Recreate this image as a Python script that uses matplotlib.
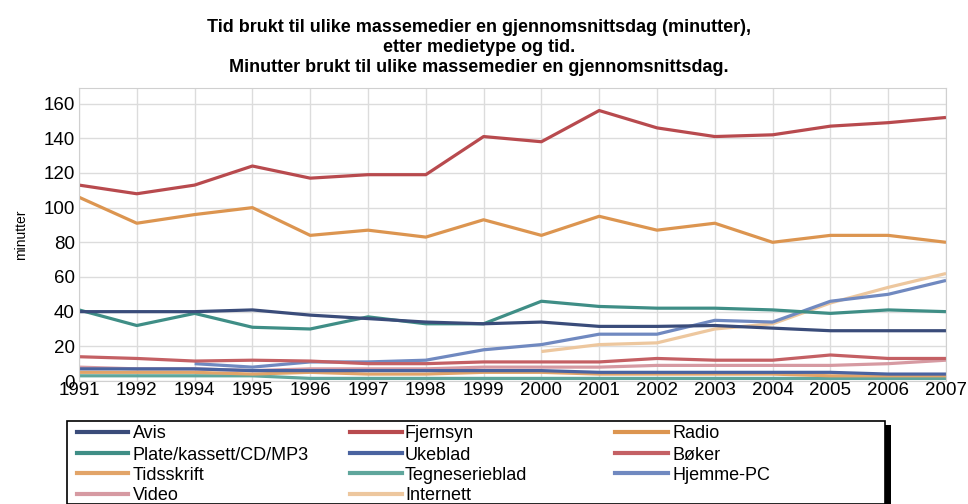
import numpy as np
import matplotlib.pyplot as plt
from matplotlib.lines import Line2D

plt.rcParams['font.family'] = ['Liberation Sans', 'DejaVu Sans']

years = ['1991', '1992', '1994', '1995', '1996', '1997', '1998', '1999',
         '2000', '2001', '2002', '2003', '2004', '2005', '2006', '2007']
nan = np.nan

avis = [40, 40, 40, 41, 38, 36, 34, 33, 34, 31.5, 31.5, 32, 30.5, 29, 29, 29]
fjernsyn = [113, 108, 113, 124, 117, 119, 119, 141, 138, 156, 146, 141, 142, 147, 149, 152]
radio = [106, 91, 96, 100, 84, 87, 83, 93, 84, 95, 87, 91, 80, 84, 84, 80]
plate = [41, 32, 39, 31, 30, 37, 33, 33, 46, 43, 42, 42, 41, 39, 41, 40]
ukeblad = [7, 7, 7, 6, 6, 6, 6, 6, 6, 5, 5, 5, 5, 5, 4, 4]
boker = [14, 13, 11.5, 12, 11.5, 10, 10, 11, 11, 11, 13, 12, 12, 15, 13, 13]
tidsskrift = [5, 5, 5, 4, 5, 4, 4, 5, 5, 4, 4, 4, 4, 3, 3, 3]
tegneserie = [3, 3, 3, 3, 1.5, 1.5, 1.5, 1.5, 1.5, 1.5, 1.5, 1.5, 1.5, 1.5, 1.5, 1.5]
hjemme_pc = [nan, nan, 10, 8, 11, 11, 12, 18, 21, 27, 27, 35, 34, 46, 50, 58]
video = [8, 7, 7, 6, 7, 7, 7, 8, 8, 8, 9, 9, 9, 9, 10, 12]
internett = [nan, nan, nan, nan, nan, nan, nan, nan, 17, 21, 22, 30, 33, 45, 54, 62]

series = [
    ('Avis', avis, '#3a4c7a'),
    ('Fjernsyn', fjernsyn, '#b84a4e'),
    ('Radio', radio, '#dc9550'),
    ('Plate/kassett/CD/MP3', plate, '#3f8e86'),
    ('Ukeblad', ukeblad, '#4a63a0'),
    ('Bøker', boker, '#c46064'),
    ('Tidsskrift', tidsskrift, '#e2a468'),
    ('Tegneserieblad', tegneserie, '#5fa69c'),
    ('Hjemme-PC', hjemme_pc, '#7089c0'),
    ('Video', video, '#d69aa2'),
    ('Internett', internett, '#edc79e'),
]

W, H = 968, 504
fig = plt.figure(figsize=(W / 100, H / 100), dpi=100)
ax = fig.add_axes([79 / W, 1 - 381 / H, (946 - 79) / W, (381 - 88) / H])

x = np.arange(len(years))
# draw from the back so the bigger series stay on top
for name, vals, col in reversed(series):
    ax.plot(x, vals, color=col, linewidth=2.3, solid_capstyle='butt')

ax.set_xlim(0, len(years) - 1)
ax.set_ylim(0, 169)
ax.set_xticks(x)
ax.set_xticklabels(years, fontsize=13.5)
ax.set_yticks(np.arange(0, 161, 20))
ax.tick_params(axis='y', labelsize=13.5, length=0, pad=3)
ax.tick_params(axis='x', length=0, pad=1)
ax.grid(True, color='#dcdcdc', linewidth=1)
ax.set_axisbelow(True)
for s in ax.spines.values():
    s.set_color('#d0d0d0')
ax.set_ylabel('minutter', fontsize=10, labelpad=11)

title_lines = ['Tid brukt til ulike massemedier en gjennomsnittsdag (minutter),',
               'etter medietype og tid.',
               'Minutter brukt til ulike massemedier en gjennomsnittsdag.']
for ty, t in zip([27, 47, 67], title_lines):
    fig.text(479 / W, 1 - ty / H, t, ha='center', va='center',
             fontsize=13, fontweight='bold')

# legend drawn by hand, row by row like the original
fig.add_artist(plt.Rectangle((67 / W, 0), (885 - 67) / W, (H - 421) / H,
                             transform=fig.transFigure, facecolor='white',
                             edgecolor='black', linewidth=1.2))
fig.add_artist(plt.Rectangle((885 / W, 0), 6 / W, (H - 425) / H,
                             transform=fig.transFigure, facecolor='black',
                             edgecolor='none'))
col_x = [(77, 128, 133), (350, 402, 405), (615, 668, 673)]
row_y = [432, 453, 473, 494]
for i, (name, vals, col) in enumerate(series):
    r, c = divmod(i, 3)
    x0, x1, tx = col_x[c]
    yy = 1 - row_y[r] / H
    fig.add_artist(Line2D([x0 / W, x1 / W], [yy, yy], transform=fig.transFigure,
                          color=col, linewidth=3))
    fig.text(tx / W, yy, name, ha='left', va='center_baseline', fontsize=13)

fig.savefig('out.png', dpi=100)
